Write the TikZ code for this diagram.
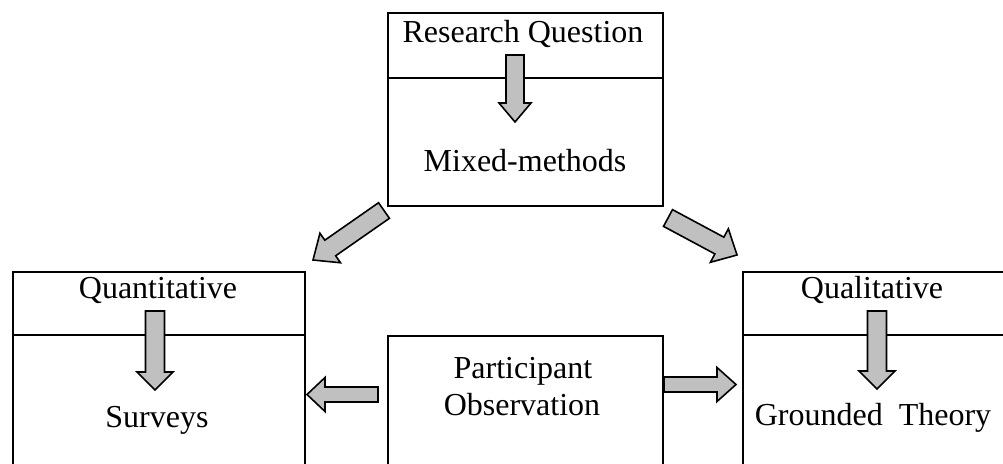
\documentclass[tikz,border=0pt]{standalone}
\usepackage{fontspec}
\setmainfont{Liberation Serif}
\usetikzlibrary{calc}

\definecolor{arrowgray}{RGB}{192,192,192}

\tikzset{
  frame/.style={draw, line width=2pt, rectangle, inner sep=0pt, anchor=north west},
  divider/.style={line width=2pt},
  caption/.style={anchor=base, inner sep=0pt, font=\fontsize{32}{37}\selectfont},
  blockarrow/.style={draw, fill=arrowgray, line width=1.6pt, line join=miter},
}

% Block arrow from #1 (tail) to #2 (tip):
% #3 half shaft width, #4 half head width, #5 head length (all in pt)
\newcommand{\fatarrow}[5]{%
  \coordinate (fa-h) at ($(#2)!#5pt!(#1)$);
  \path[blockarrow]
    ($(#1)!#3pt!90:(#2)$) -- ($(fa-h)!#3pt!90:(#2)$) -- ($(fa-h)!#4pt!90:(#2)$)
    -- (#2)
    -- ($(fa-h)!#4pt!-90:(#2)$) -- ($(fa-h)!#3pt!-90:(#2)$) -- ($(#1)!#3pt!-90:(#2)$)
    -- cycle;}

\begin{document}
\begin{tikzpicture}[x=1pt, y=-1pt]
  \useasboundingbox (0,0) rectangle (1003,463);
  \clip (0,0) rectangle (1003,463);

  % boxes
  \node[frame, minimum width=275pt, minimum height=193pt] (rq) at (387,12) {};
  \node[frame, minimum width=292pt, minimum height=260pt] (quant) at (12,271) {};
  \node[frame, minimum width=300pt, minimum height=260pt] (qual) at (742,271) {};
  \node[frame, minimum width=275pt, minimum height=200pt] (part) at (387,335) {};

  % header dividers
  \draw[divider] ($(rq.north west)+(0,65.5)$) -- ($(rq.north east)+(0,65.5)$);
  \draw[divider] ($(quant.north west)+(0,64)$) -- ($(quant.north east)+(0,64)$);
  \draw[divider] ($(qual.north west)+(0,64)$) -- ($(qual.north east)+(0,64)$);

  % texts
  \node[caption] (t-rq)   at (523,42)  {Research Question};
  \node[caption] (t-mm)   at (525,171) {Mixed-methods};
  \node[caption] (t-qn)   at (158,298) {Quantitative};
  \node[caption] (t-sv)   at (157,427) {Surveys};
  \node[caption] (t-ql)   at (872,298) {Qualitative};
  \node[caption] (t-gt)   at (873,425) {Grounded\ \ Theory};
  \node[caption] (t-p1)   at (523,378) {Participant};
  \node[caption] (t-p2)   at (522,415) {Observation};

  % arrow end points
  \coordinate (rqT) at (515,55);    \coordinate (rqH) at (515,122);
  \coordinate (qnT) at (155,311);   \coordinate (qnH) at (155,390);
  \coordinate (qlT) at (877,311);   \coordinate (qlH) at (877,389);
  \coordinate (pL)  at (378,394.5); \coordinate (pLH) at (307,394.5);
  \coordinate (pR)  at (part.east |- 0,384.5); \coordinate (pRH) at (736,384.5);
  \coordinate (dL)  at (384,210.5); \coordinate (dLH) at (313,260);
  \coordinate (dR)  at (668,218);   \coordinate (dRH) at (737,255);

  % arrows
  \fatarrow{rqT}{rqH}{9}{16}{19}
  \fatarrow{qnT}{qnH}{9.5}{18}{18}
  \fatarrow{qlT}{qlH}{9.5}{18}{18}
  \fatarrow{pL}{pLH}{7.5}{17}{18}
  \fatarrow{pR}{pRH}{7.5}{17}{19}
  \fatarrow{dL}{dLH}{9.5}{18}{21}
  \fatarrow{dR}{dRH}{9.5}{19}{20}
\end{tikzpicture}
\end{document}
